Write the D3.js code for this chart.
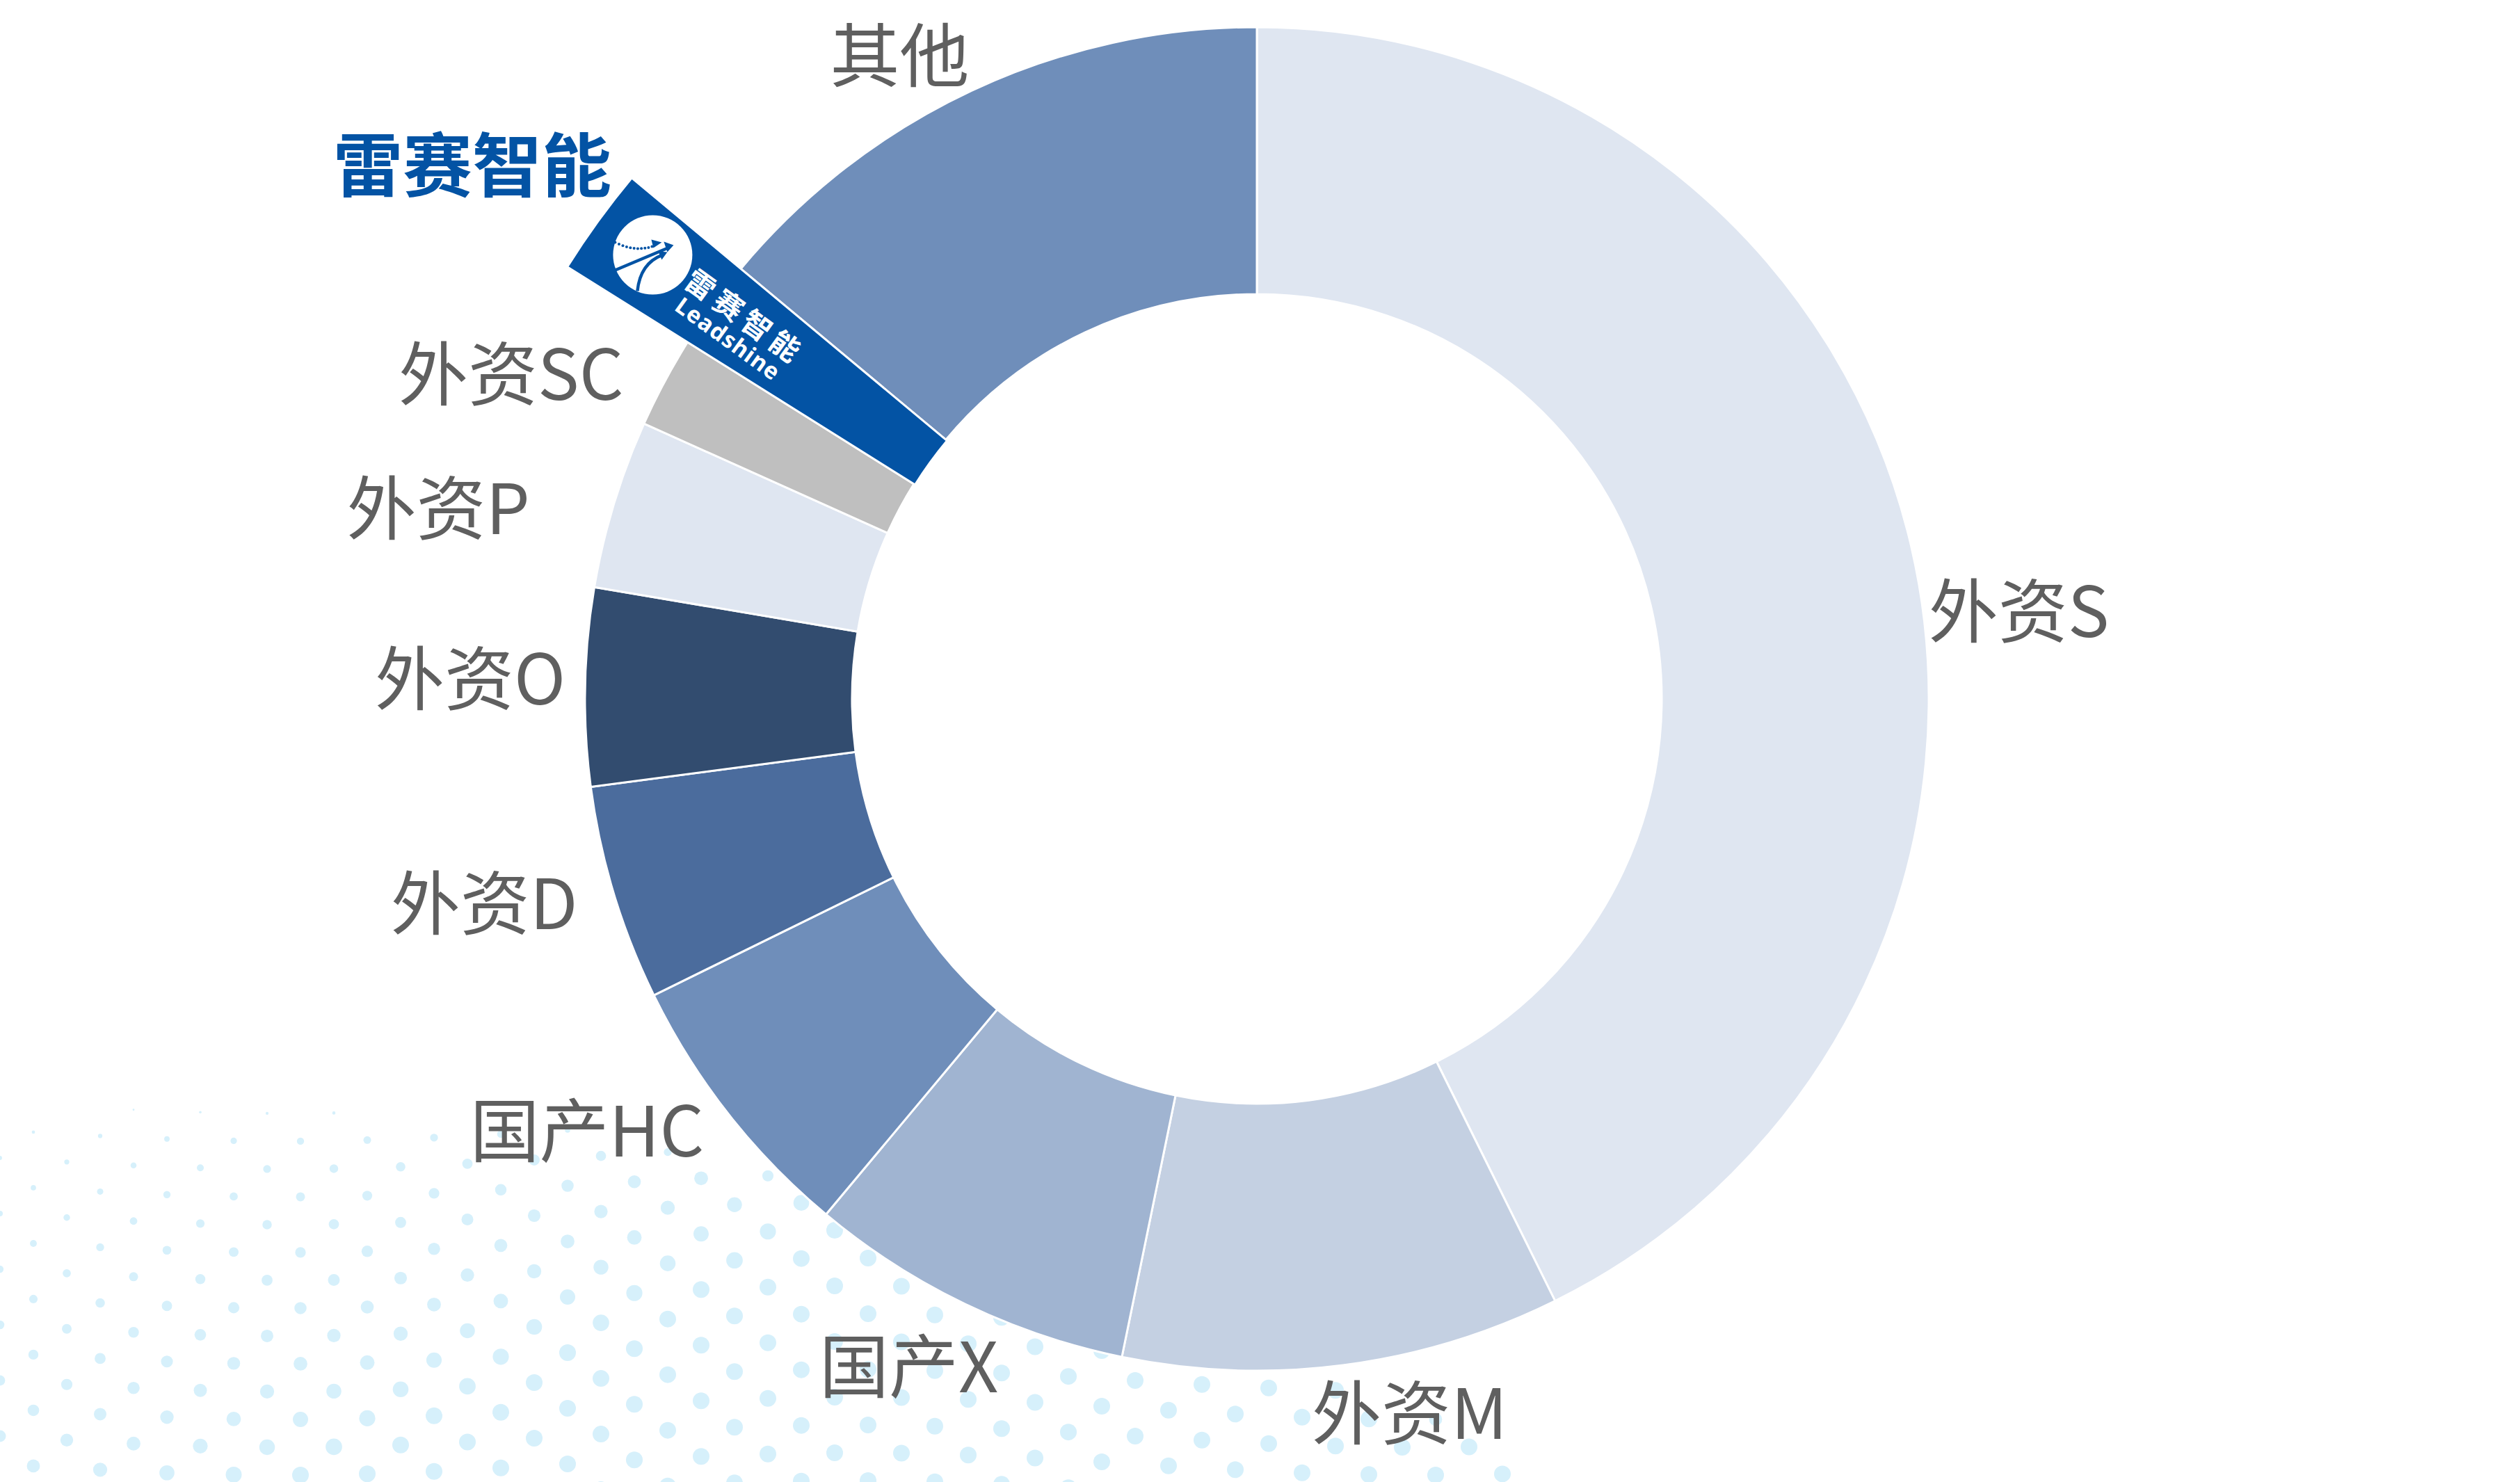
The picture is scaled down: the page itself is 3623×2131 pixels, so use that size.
<!DOCTYPE html>
<html><head><meta charset="utf-8">
<script src="https://cdn.jsdelivr.net/npm/d3@7"></script>
<style>html,body{margin:0;padding:0;background:#fff;} svg{display:block;}</style>
</head><body>
<svg id="chart" width="3623" height="2131"></svg>
<script>
// ---- data ----
const categories = ["外资S","外资M","国产X","国产HC","外资D","外资O","外资P","外资SC","雷赛智能","其他"];
const shares     = [42.68, 10.54, 7.86, 6.65, 5.18, 4.75, 4.06, 2.19, 2.15, 13.94];
const palette    = ["#DFE6F1","#C4D0E2","#A0B4D1","#6F8EBA","#4B6C9D","#324C6F","#DFE6F1","#BFBFBF","#0353A4","#6F8EBA"];
const highlight  = "雷赛智能";
const brandText  = ["雷赛智能", "Leadshine"];
// manual label drags (px), like hand-moved data labels
const labelNudge = {"外资S":[-2,100],"外资M":[92,-6],"国产X":[60,18],"国产HC":[-13,-40],"外资D":[-25,5],
                    "外资O":[0,-12],"外资P":[-94,14],"外资SC":[-34,47],"其他":[8,20],"雷赛智能":[-23,33]};

const W = 3623, H = 2131, cx = 1807, cy = 1005;
const rIn = 582, rOut = 966, rHiOut = 1170;
const svg = d3.select("#chart");
svg.append("rect").attr("width", W).attr("height", H).attr("fill", "#fff");

// ---- decorative dot field (bottom-left) ----
const yTop = d3.scaleLinear().domain([0, 700, 1100, 1500, 1900, 2250]).range([1590, 1600, 1660, 1780, 1940, 2150]).clamp(true);
const dotsG = svg.append("g").attr("fill", "#D6F0FB");
for (let row = 0; row < 15; row++) {
  for (let col = -1; col < 26; col++) {
    const x = col * 96 + (row % 2 ? 48 : 0);
    const y = 1585 + row * 40 + 16 * Math.sin(x / 260);
    if (x < 0 || x > 2300 || y > H + 12) continue;
    const yb = yTop(x);
    if (y < yb) continue;
    let r = 2 + 0.0065 * x + 0.014 * (y - 1600);
    r *= Math.min(1, 0.4 + (y - yb) / 80);
    r = Math.max(1, Math.min(12, r));
    dotsG.append("circle").attr("cx", x).attr("cy", y).attr("r", r);
  }
}

// ---- donut ----
const data = categories.map((c, i) => ({ c, v: shares[i] }));
const pie = d3.pie().sort(null).value(d => d.v).startAngle(0).endAngle(2 * Math.PI);
const arcs = pie(data);
const color = d3.scaleOrdinal(categories, palette);
const arc = d3.arc().innerRadius(rIn).outerRadius(rOut);
const arcHi = d3.arc().innerRadius(rIn - 2).outerRadius(rHiOut);

const g = svg.append("g").attr("transform", `translate(${cx},${cy})`);
g.selectAll("path.slice").data(arcs.filter(a => a.data.c !== highlight)).join("path")
  .attr("class", "slice").attr("d", arc)
  .attr("fill", d => color(d.data.c))
  .attr("stroke", "#fff").attr("stroke-width", 3).attr("stroke-linejoin", "round");

const hi = arcs.find(a => a.data.c === highlight);
g.append("path").attr("d", arcHi(hi)).attr("fill", color(highlight))
  .attr("stroke", "#fff").attr("stroke-width", 3).attr("stroke-linejoin", "miter");

// ---- labels ----
const FS = 100, R_LAB = 994, BOXH = 92;
const lab = svg.append("g").attr("font-family", "'Noto Sans CJK SC','Noto Sans',sans-serif");
arcs.forEach(a => {
  const c = a.data.c;
  const th = (a.startAngle + a.endAngle) / 2;
  const s = Math.sin(th), co = Math.cos(th);
  const nd = labelNudge[c] || [0, 0];
  if (c === highlight) {
    const R = 1365;
    const x = cx + R * s + nd[0], yc = cy - R * co + nd[1];
    lab.append("text").attr("x", x).attr("y", yc + 0.38 * FS)
      .attr("text-anchor", "middle").attr("font-size", FS).attr("font-weight", 700)
      .attr("fill", "#0353A4").text(c);
    return;
  }
  const ax = cx + R_LAB * s, ay = cy - R_LAB * co;
  const anchor = s > 0.35 ? "start" : s < -0.35 ? "end" : "middle";
  let yc = ay;
  if (co > 0.35) yc = ay - BOXH / 2; else if (co < -0.35) yc = ay + BOXH / 2;
  lab.append("text").attr("x", ax + nd[0]).attr("y", yc + nd[1] + 0.38 * FS)
    .attr("text-anchor", anchor).attr("font-size", FS).attr("font-weight", 400)
    .attr("fill", "#5F5F5F").text(c);
});

// ---- brand mark inside the highlighted wedge ----
const thm = (hi.startAngle + hi.endAngle) / 2;
const r0 = 1000;
const ox = cx + r0 * Math.sin(thm), oy = cy - r0 * Math.cos(thm);
const rot = thm * 180 / Math.PI - 270;
const bg = svg.append("g").attr("transform", `translate(${ox},${oy}) rotate(${rot})`);
bg.append("text").attr("x", 78).attr("y", -13 + 0.38 * 42)
  .attr("text-anchor", "middle").attr("font-size", 42).attr("font-weight", 700)
  .attr("font-family", "'Noto Sans CJK SC',sans-serif").attr("fill", "#fff")
  .attr("textLength", 192).attr("lengthAdjust", "spacing").text(brandText[0]);
bg.append("text").attr("x", 80).attr("y", 27 + 12)
  .attr("text-anchor", "middle").attr("font-size", 33).attr("font-weight", 700)
  .attr("font-family", "'Noto Sans','DejaVu Sans',sans-serif").attr("fill", "#fff")
  .attr("textLength", 176).attr("lengthAdjust", "spacing").text(brandText[1]);

// icon circle (upright)
const rr = rot * Math.PI / 180;
const lx = -78, ly = -7;
const icx = ox + lx * Math.cos(rr) - ly * Math.sin(rr);
const icy = oy + lx * Math.sin(rr) + ly * Math.cos(rr);
const ic = svg.append("g").attr("transform", `translate(${icx},${icy})`);
ic.append("circle").attr("r", 57).attr("fill", "#fff");
const blue = "#0353A4";
// dotted trail
const trail = d3.range(11).map(i => {
  const t = i / 10;
  const x = (1 - t) * (1 - t) * -54 + 2 * (1 - t) * t * -26 + t * t * -1;
  const y = (1 - t) * (1 - t) * -18 + 2 * (1 - t) * t * -4 + t * t * -12;
  return [x, y];
});
ic.selectAll("circle.tr").data(trail).join("circle").attr("class", "tr")
  .attr("cx", d => d[0]).attr("cy", d => d[1]).attr("r", 2).attr("fill", blue);
ic.append("path").attr("d", "M13,-18 L-2,-22 L1,-10 Z").attr("fill", blue);
// straight arrow
ic.append("path").attr("d", "M-54,22 L22,-10").attr("stroke", blue).attr("stroke-width", 4.5).attr("fill", "none");
ic.append("path").attr("d", "M30,-14 L16,-19 L21,-4 Z").attr("fill", blue);
// curved arrow
ic.append("path").attr("d", "M-22,52 Q-18,12 14,0").attr("stroke", blue).attr("stroke-width", 4.5).attr("fill", "none");
ic.append("path").attr("d", "M21,-4 L8,-5 L13,7 Z").attr("fill", blue);
</script>
</body></html>
